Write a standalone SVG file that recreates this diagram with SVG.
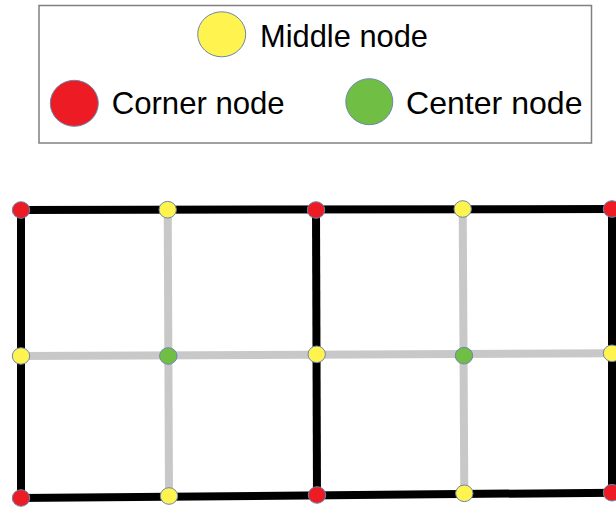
<svg xmlns="http://www.w3.org/2000/svg" width="616" height="508" viewBox="0 0 616 508">
<style>
.lbl{font-family:"Liberation Sans",Arial,sans-serif;font-size:31.5px;fill:#000}
.blk{stroke:#000;stroke-width:8;fill:none;stroke-linecap:square}
.gry{stroke:#c8c8c8;stroke-width:8;fill:none}
.n{stroke:#6b86ab;stroke-width:1}
.corner{fill:#ed1c24}
.middle{fill:#fff34f}
.center{fill:#70bf44}
</style>
<rect width="616" height="508" fill="#fff"/>
<g id="legend">
<rect x="39" y="5.5" width="552.5" height="137.5" fill="#fff" stroke="#808080" stroke-width="1.5"/>
<ellipse class="n middle" cx="221.7" cy="34.3" rx="24" ry="22.5"/>
<text class="lbl" x="260" y="46.5" textLength="168" lengthAdjust="spacingAndGlyphs">Middle node</text>
<ellipse class="n corner" cx="74.3" cy="103.3" rx="24" ry="23"/>
<text class="lbl" x="111.7" y="114" textLength="173" lengthAdjust="spacingAndGlyphs">Corner node</text>
<ellipse class="n center" cx="369.3" cy="101.7" rx="23.5" ry="23"/>
<text class="lbl" x="406" y="114" textLength="176.5" lengthAdjust="spacingAndGlyphs">Center node</text>
</g>
<g id="connectors">
<line class="gry" x1="167.7" y1="210" x2="169" y2="496"/>
<line class="gry" x1="462.7" y1="209" x2="464.3" y2="493"/>
<line class="gry" x1="21" y1="356" x2="612" y2="353.3"/>
<line class="blk" x1="21" y1="210" x2="612" y2="209"/>
<line class="blk" x1="21" y1="498" x2="612" y2="492.7"/>
<line class="blk" x1="21" y1="210" x2="21" y2="498"/>
<line class="blk" x1="316" y1="210" x2="317" y2="495"/>
<line class="blk" x1="612" y1="209" x2="612" y2="492.7"/>
</g>
<g id="n-r0c0"><ellipse class="n corner" cx="21" cy="210" rx="8.7" ry="8.3"/></g>
<g id="n-r0c1"><ellipse class="n middle" cx="167.7" cy="209.7" rx="8.7" ry="8.3"/></g>
<g id="n-r0c2"><ellipse class="n corner" cx="316" cy="210" rx="8.7" ry="8.3"/></g>
<g id="n-r0c3"><ellipse class="n middle" cx="462.7" cy="209" rx="8.7" ry="8.3"/></g>
<g id="n-r0c4"><ellipse class="n corner" cx="612" cy="209" rx="8.7" ry="8.3"/></g>
<g id="n-r1c0"><ellipse class="n middle" cx="21" cy="356" rx="8.7" ry="8.3"/></g>
<g id="n-r1c1"><ellipse class="n center" cx="168.3" cy="356" rx="8.7" ry="8.3"/></g>
<g id="n-r1c2"><ellipse class="n middle" cx="316.7" cy="354.3" rx="8.7" ry="8.3"/></g>
<g id="n-r1c3"><ellipse class="n center" cx="464" cy="355.7" rx="8.7" ry="8.3"/></g>
<g id="n-r1c4"><ellipse class="n middle" cx="612" cy="353.3" rx="8.7" ry="8.3"/></g>
<g id="n-r2c0"><ellipse class="n corner" cx="21" cy="498" rx="8.7" ry="8.3"/></g>
<g id="n-r2c1"><ellipse class="n middle" cx="169" cy="496" rx="8.7" ry="8.3"/></g>
<g id="n-r2c2"><ellipse class="n corner" cx="317" cy="495" rx="8.7" ry="8.3"/></g>
<g id="n-r2c3"><ellipse class="n middle" cx="464.3" cy="493.3" rx="8.7" ry="8.3"/></g>
<g id="n-r2c4"><ellipse class="n corner" cx="612" cy="492.7" rx="8.7" ry="8.3"/></g>
</svg>
